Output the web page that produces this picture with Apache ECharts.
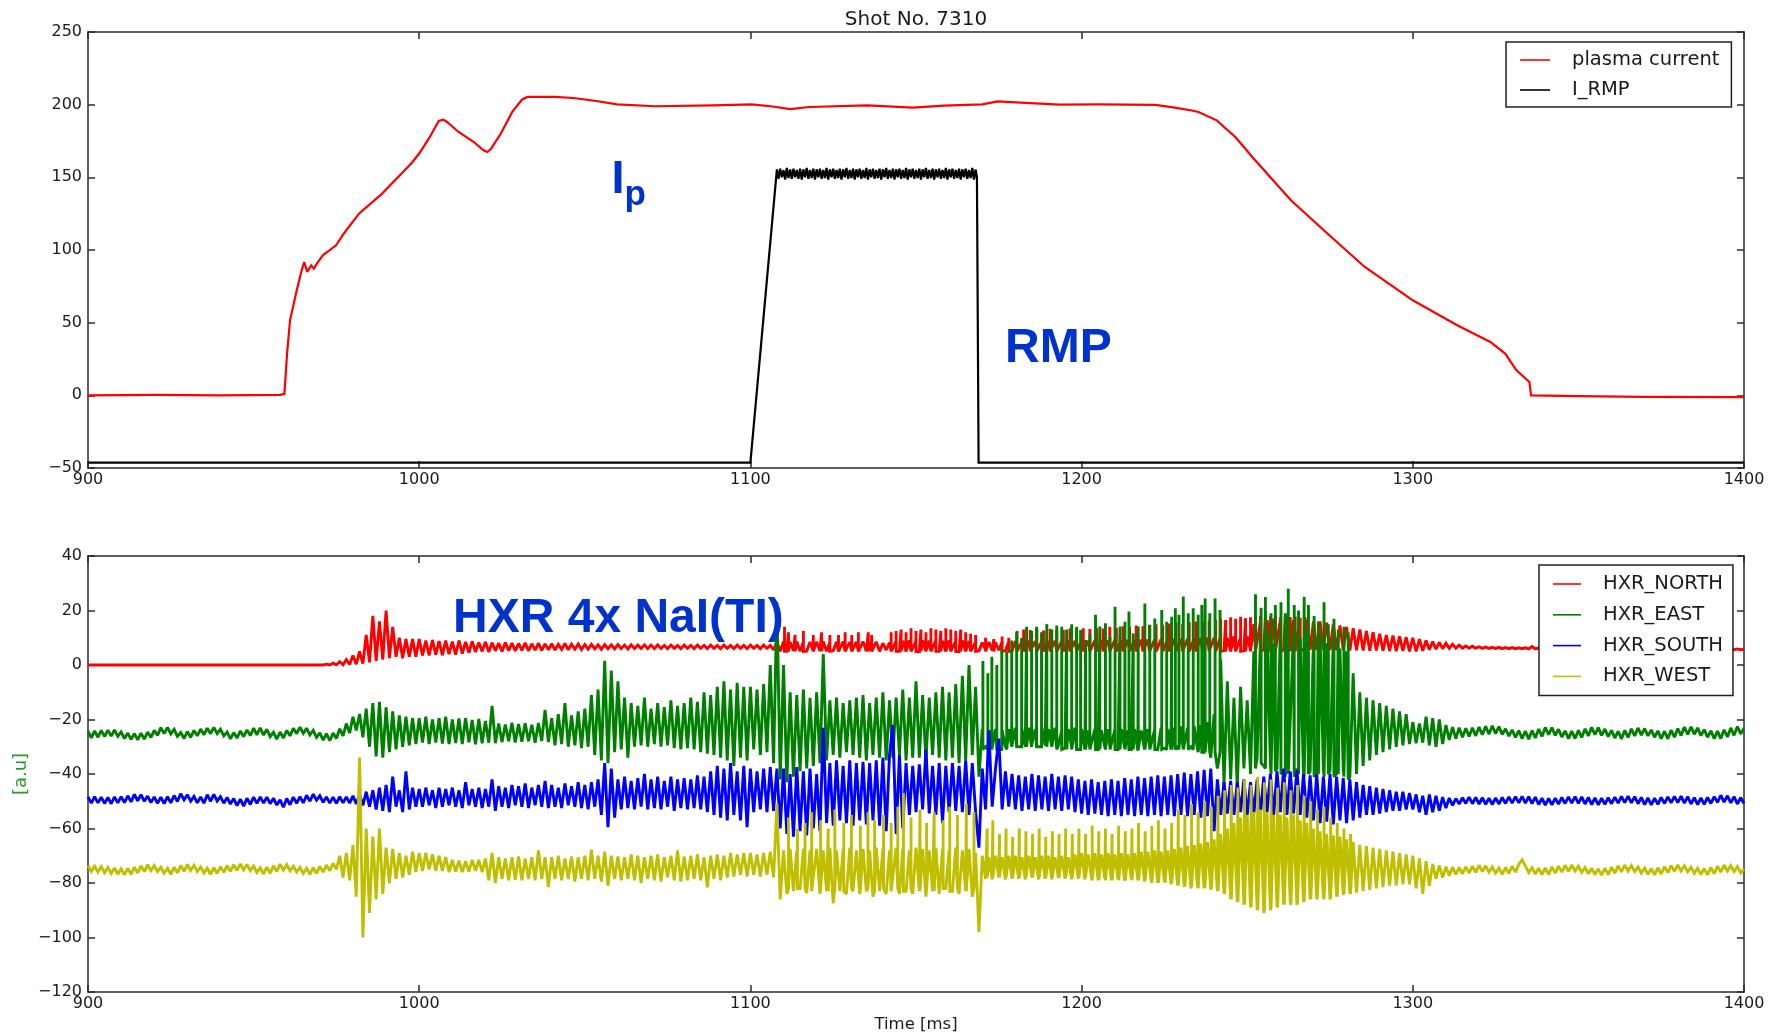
<!DOCTYPE html>
<html>
<head>
<meta charset="utf-8">
<script src="https://cdn.jsdelivr.net/npm/echarts@6/dist/echarts.min.js"></script>
<style>
  html, body { margin: 0; padding: 0; background: #fff; }
  #chart { width: 1778px; height: 1035px; }
</style>
</head>
<body>
<div id="chart"></div>
<script>
// ---------------- Shot No. 7310 : axes ----------------
const timeAxis = [900, 1400, 100];          // min, max, step (ms)
const currentAxis = [-50, 250, 50];         // plasma current / I_RMP
const hxrAxis = [-120, 40, 20];             // HXR signals [a.u]

// ---------------- plasma current (t [ms], value) ----------------
const plasmaCurrent = [
  [900,0],[920,0.3],[940,0],[958,0.3],[959.3,1],[960.1,28.7],[961,51.6],[962.8,70],[964.5,86],
  [965.3,91.7],[966.2,84.9],[967.4,89.4],[968.2,87.2],[969.1,90.6],[970.9,96.3],[974.9,103.2],
  [977.2,111.2],[981.8,125],[988.8,138.8],[994.6,152.5],[998,160.6],[1000.3,167.4],[1003.2,177.8],
  [1005.9,188.8],[1007.3,189.7],[1008.4,188.1],[1011.9,181.2],[1016.5,174.3],[1019.4,168.6],
  [1020.6,167.4],[1021.7,169.7],[1024.6,180],[1028.1,195],[1031,203.4],[1032.7,205.3],[1040.8,205.3],
  [1046.6,204.6],[1053.5,202.5],[1059.7,200.2],[1071.3,198.9],[1088.7,199.5],[1100.3,200.2],
  [1106.2,198.9],[1112,197],[1117.8,198.4],[1135.2,199.5],[1149.1,197.9],[1158.4,199.3],[1170,200.2],
  [1174.7,202.3],[1181.6,201.4],[1193.3,200],[1204.9,200.2],[1222.3,199.8],[1228.1,198],[1233.3,196],
  [1235.3,195],[1240.8,189.2],[1246.4,177.8],[1252,162.8],[1263.2,134.2],[1274.3,111.2],[1285.5,88.3],
  [1300,65.4],[1313.4,48.2],[1323.4,36.7],[1327.9,28.7],[1331.3,17.2],[1335.2,9.2],[1335.7,0],
  [1350,-0.5],[1370,-1],[1400,-1.2]
];

// ---------------- I_RMP ----------------
const rmpBefore = [[900,-46.3],[1100,-46.3]];
const rmpPlateauStart = 1108, rmpPlateauStep = 0.5;   // flat-top samples (ms)
const rmpPlateau = [
  155.5,149,156,150,155,148.5,156.5,149.5,155.5,149,
  156,150,155,149,156,148.5,155.5,150,156.5,149,
  155,149.5,156,148.5,155.5,150,156,149,155,149.5,
  156.5,148.5,155.5,150,156,149,155,149.5,156,148.5,
  155.5,150,156.5,149,155,149.5,156,148.5,155.5,150,
  156,149,155,149.5,156.5,148.5,155.5,150,156,149,
  155,149.5,156,148.5,155.5,150,156.5,149,155,149.5,
  156,148.5,155.5,150,156,149,155,149.5,156.5,148.5,
  155.5,150,156,149,155,149.5,156,148.5,155.5,150,
  156.5,149,155,149.5,156,148.5,155.5,150,156,149,
  155,149.5,156.5,148.5,155.5,150,156,149,155,149.5,
  156,148.5,155.5,150,156,149,155,149.5,156.5,148.5,
  155.5
];
const rmpAfter = [[1168.4,150],[1168.9,-46.3],[1400,-46.3]];

// ---------------- HXR detectors, sampled every 1 ms from 900 ms ----------------
const hxrStart = 900, hxrStep = 1;

const hxrNorth = [
  0,0,0,0,0,0,0,0,0,0,
  0,0,0,0,0,0,0,0,0,0,
  0,0,0,0,0,0,0,0,0,0,
  0,0,0,0,0,0,0,0,0,0,
  0,0,0,0,0,0,0,0,0,0,
  0,0,0,0,0,0,0,0,0,0,
  0,0,0,0,0,0,0,0,0,0,
  0,0,0.3,0,0.7,0.1,1.2,0.1,2,0.2,
  3.5,0.3,5,0.5,11,1,18,1.5,16,2,
  20,2.5,14,3,10,2.5,9.5,3,9.5,3,
  // 1000
  9.5,3.5,9,3.5,9.2,3.8,8.8,3.6,9,4,
  8.6,3.8,9,4.2,8.5,4.5,8.7,4.8,8.3,5,
  8.5,4.8,8.2,5.2,8,5,8.3,5.3,8,5.2,
  7.9,5.4,8.1,5.2,7.8,5.5,8,5.4,7.7,5.6,
  7.8,5.5,7.6,5.7,7.9,5.6,7.6,5.8,7.7,5.7,
  7.5,5.8,7.6,5.9,7.4,5.8,7.5,6,7.4,5.9,
  7.5,6,7.3,5.9,7.4,6,7.3,6.1,7.4,6,
  7.3,6,7.4,6.1,7.2,6,7.3,6.1,7.2,6,
  7.3,6.1,7.2,6,7.3,6.1,7.2,6,7.3,6.1,
  7.2,6,7.3,6.1,7.2,6,7.3,6.1,7.2,6,
  // 1100
  7.3,6.1,7.2,6,7.3,6.1,7.2,5.5,8.5,5,
  8.6,5,8.4,5.2,8.6,5,8.5,5.1,8.4,5,
  8.5,5.1,8.6,5,8.4,5.2,8.5,5,8.6,5.1,
  8.4,5,8.5,5.2,8.6,5,8.4,5.1,8.5,5,
  8,5.5,8.2,5.3,8.8,5,8.9,4.9,9,5,
  8.8,4.9,9,5,8.9,4.8,9,5,8.8,4.9,
  9,5,8.9,4.9,9,5,8.8,5,8.5,5.2,
  8.2,5.5,8.4,5.3,8.3,5.4,8.5,5.2,8.6,5.1,
  8.8,5,8.7,5.1,8.9,5,8.8,5.1,8.9,5,
  8.8,5,8.9,5.1,8.8,5,9,5.1,8.9,5,
  // 1200
  9,5,8.9,5.1,9,5,9.1,5,9,5.1,
  9.1,5,9,5,9.2,5.1,9.1,5,9.2,5,
  9.3,5,9.2,5.1,9.4,5,9.3,5,9.5,5.1,
  9.5,5,9.6,5.1,9.7,5,9.8,5.1,10,5,
  10,5,10.5,5.2,10,5,10.5,5.3,10,5.2,
  10.5,5.4,15,5.5,16,5.6,16.5,5.5,17,5.7,
  16.5,5.6,17,5.8,16.5,5.7,17,5.8,16.5,5.6,
  16,5.5,16,5.6,15.5,5.5,15,5.4,14.5,5.5,
  14,5.3,13.5,5.4,13,5.3,12.5,5.2,12,5.3,
  11.5,5.2,11,5.2,10.8,5.1,10.5,5.2,10.2,5,
  // 1300
  10,5,9.5,5.2,9,5.6,8.6,5.8,8.3,6,
  8,6.1,7.6,6.2,7.3,6.2,7,6.2,6.9,6.2,
  6.7,6.1,6.6,6.1,6.5,6.1,6.5,6,6.4,6,
  6.4,6,6.3,6,6.3,5.9,6.8,5.9,6.2,5.9,
  6.2,5.9,6.2,5.8,6.1,5.8,6.1,5.8,6.1,5.8,
  6.1,5.8,6.1,5.8,6,5.7,6,5.7,6,5.7,
  6,5.7,6,5.7,6,5.7,6,5.7,6,5.7,
  6,5.7,6,5.7,6,5.7,6,5.6,5.9,5.6,
  5.9,5.6,5.9,5.6,5.9,5.6,5.9,5.6,5.9,5.6,
  5.9,5.6,5.9,5.6,5.9,5.6,5.9,5.6,5.9,5.6,
  5.8
];

const hxrEast = [
  -24.3,-26.7,-24.2,-26.5,-24,-26.3,-23.9,-26.1,-23.8,-26.2,
  -24.6,-27,-25,-27.3,-25.2,-27.5,-25,-27.2,-24.6,-26.6,
  -24,-25.8,-23,-25.2,-22.9,-25.3,-23.6,-26.2,-24.8,-27,
  -24.4,-26.6,-24,-26,-23.5,-25.6,-23.2,-25.2,-22.9,-25.2,
  -23.6,-26,-24.6,-27.1,-24.8,-26.8,-24.2,-26.3,-23.8,-25.9,
  -23.2,-25.6,-23.1,-25.7,-23.6,-26.3,-24.7,-27.2,-24.6,-26.8,
  -24,-26,-23.2,-25.2,-22.8,-25.1,-23.2,-25.7,-24,-26.6,
  -24.9,-27.6,-25.2,-27.8,-25,-27,-23.4,-26,-21.5,-25,
  -19,-24,-18,-26.5,-16,-30,-14,-33.5,-13.5,-34,
  -15.5,-32,-17,-31,-18.5,-30,-19,-29.5,-19.5,-29,
  // 1000
  -19.5,-28.5,-19,-29,-20,-28.5,-19.5,-28.8,-19,-29,
  -20,-28.6,-19.6,-29,-19.5,-28.4,-20.2,-29.1,-19.8,-28.7,
  -20.5,-28.5,-15,-28.7,-21.5,-28.3,-21.8,-28,-21.2,-28.4,
  -21.7,-28.2,-21.4,-28,-21.9,-28.5,-21.3,-27.9,-16.5,-28.3,
  -19.5,-29.5,-18,-29,-14,-30,-18.5,-29.5,-17,-30.5,
  -16,-30,-11,-33,-9,-35,1.5,-36,-2,-32,
  -6,-31,-12,-34,-14,-30,-15,-29.5,-12,-30,
  -16,-29,-14,-30,-15.5,-29.5,-13,-30.5,-15,-31,
  -14,-30.5,-12,-31,-13.5,-32,-10,-32.5,-11,-33,
  -8,-34,-6,-35,-9,-37,-6.5,-34,-8,-35,
  // 1100
  -8,-31,-9,-33,-7,-32,0,-36,23,-42,
  0,-43,-10,-41,-11,-39,-9,-38,-12,-37,
  -10,-36,4,-35,-13,-33,-12,-34,-14,-32,
  -13,-33,-12,-34,-11,-35,-14,-33,-12,-34,
  -10,-35,-13,-34,-12,-33,-9,-35,-12,-34,
  -6,-34,-11,-35,-12,-33,-10,-34,-8,-35,
  -10,-34,-7,-36,-4,-35,0,-33,-8,-41,
  -23.5,-30,-24,-31,-23.5,-30.5,-24,-30,-23.5,-29.5,
  -23,-29.5,-23.5,-30,-23,-29,-23.5,-30,-23,-29.5,
  -23.5,-30,-23,-29.5,-24,-30.5,-23.5,-30,-23,-30.5,
  // 1200
  -23.5,-31,-24,-30.5,-23.5,-31,-24,-30,-23.5,-31.5,
  -24,-31,-23.5,-30.5,-24,-31,-23.5,-31.5,-24,-31,
  -23.5,-30.5,-24,-31,-23,-30.5,-23.5,-31,-23,-30,
  -22.5,-30.5,-23,-30,-22.5,-31,-22,-32,-21,-34,
  -18,-38,2,-44,-6,-42,-12,-45,-8,-38,
  -13,-40,5,-34,10,-37,12,-36,8,-38,
  12,-39,11,-40,13,-38,10,-41,12,-39,
  9,-40,11,-38,8,-39,10,-40,6,-38,
  5,-41,-3,-40,-10,-37,-12,-35,-13,-33,
  -14,-32,-15,-31,-16,-30,-17,-29.5,-18,-29,
  // 1300
  -21,-28.7,-21.5,-28.5,-19,-29.5,-19.5,-30,-20,-29,
  -22,-27.5,-22.8,-27,-23,-26.5,-23.2,-26.2,-23,-26,
  -22.8,-25.6,-22.5,-25.4,-22.3,-25.2,-22.6,-25.5,-23.4,-26.1,
  -23.8,-26.6,-24.1,-27,-24.3,-27.2,-24,-26.8,-23.5,-26.2,
  -22.9,-25.6,-23,-25.8,-23.6,-26.4,-24.2,-27,-24.3,-27,
  -24,-26.6,-23.4,-26,-22.9,-25.6,-23,-25.8,-23.5,-26.3,
  -24,-26.8,-24.3,-27.1,-24,-26.6,-23.4,-26,-23.1,-25.7,
  -23.3,-26,-23.8,-26.5,-24.2,-27,-24.3,-27.1,-23.9,-26.5,
  -23.3,-25.9,-22.8,-25.5,-22.7,-25.4,-23.1,-25.9,-23.7,-26.5,
  -24.2,-27,-24.3,-27,-23.8,-26.4,-23.1,-25.8,-22.6,-25.3,
  -23.2
];

const hxrSouth = [
  -48.4,-50.7,-48.3,-50.6,-48.5,-50.8,-48.6,-50.9,-48.4,-50.6,
  -48.3,-50.5,-48,-50.2,-47.5,-49.8,-47.6,-50,-48.1,-50.5,
  -48.4,-50.8,-48.5,-50.9,-48.3,-50.6,-47.9,-50.1,-47.2,-49.5,
  -47.6,-50,-48.2,-50.6,-48.4,-50.7,-47.6,-50,-47.5,-49.9,
  -48.3,-50.7,-48.6,-51,-49,-51.6,-49.2,-51.8,-48.9,-51.2,
  -48.5,-50.8,-48.4,-50.7,-48.5,-50.9,-48.9,-51.4,-49.5,-52.2,
  -49,-51.3,-48.5,-50.8,-48.3,-50.6,-47.8,-50,-47.4,-49.6,
  -48,-50.4,-48.4,-50.7,-48.5,-50.8,-48.3,-50.6,-48.4,-50.7,
  -48,-51,-47.5,-51.5,-46.5,-52,-46,-53,-45,-53.5,
  -44,-54,-41,-52,-46,-54,-39,-53,-45,-52,
  // 1000
  -45.5,-52,-45,-51.5,-46,-52.5,-45,-52,-45.5,-51.5,
  -45,-52,-46,-52.5,-43,-51.5,-45.5,-52,-45,-52.5,
  -45.5,-52,-42,-53.5,-44.5,-52,-45,-52.5,-44,-51.5,
  -44.5,-52,-43.5,-52.5,-45,-51.5,-44,-52,-42.5,-52.5,
  -44,-52,-45,-52.5,-43.5,-51.5,-44.5,-52,-43,-52.5,
  -44,-53,-43,-52,-42,-55,-36,-59.5,-38,-56,
  -42,-53,-41,-52.5,-42.5,-53,-41.5,-52,-40,-53,
  -42,-52.5,-41,-53,-42.5,-52,-41,-53.5,-42,-52.5,
  -41.5,-53,-42,-52.5,-40.5,-53,-41,-54,-39,-55,
  -37,-56,-38,-57,-36,-55,-39,-57,-37,-59.5,
  // 1100
  -38,-54,-39,-53,-38,-54,-37.5,-53.5,-38,-60,
  -38,-62,-40,-63,-37.5,-61,-39,-62.5,-38,-60,
  -40,-61,-23,-58,-36,-59,-35,-57,-37,-58,
  -35,-59,-36,-57,-35.5,-58.5,-36,-57,-35,-59,
  -34,-61,-33,-22,-62,-33,-60,-36,-55,-37,
  -54,-36.5,-53,-31,-54.5,-37,-55,-36,-58,-37,
  -54,-36,-53.5,-37,-54,-35,-55,-36,-54,-67,
  -38,-53,-24,-52,-38,-27,-53,-39,-52,-40,
  -53,-40.5,-53.5,-41,-53,-40,-53.5,-40.5,-53,-41,
  -53.5,-40,-53,-41,-53.5,-40.5,-53,-41,-54,-42,
  // 1200
  -54.5,-42.5,-55,-42,-54.5,-43,-55,-42.5,-55.5,-42,
  -55,-42.5,-55.5,-41.5,-55,-42,-55.5,-41,-55,-41.5,
  -55.5,-41,-55,-40.5,-55.5,-41,-55,-40.5,-55.5,-40,
  -55,-39.5,-55.5,-40,-55,-39,-56,-38.5,-55.5,-38,
  -61,-42,-55,-43,-54.5,-42.5,-55,-43,-54,-42,
  -55,-43,-54.5,-42,-55,-41,-54,-40,-55,-39,
  -54,-38,-55,-39,-54.5,-38.5,-55,-40,-56,-40.5,
  -57,-40,-58,-41,-57.5,-40,-58.5,-41,-57,-41.5,
  -58,-42,-57,-43,-56,-44,-55,-44.5,-55,-45,
  -54.5,-45.5,-54,-46,-53.5,-46.5,-53.5,-46.5,-53,-47,
  // 1300
  -53,-47.5,-54,-48,-55,-47.5,-54,-48,-53.5,-48.5,
  -52.5,-48.8,-51.5,-49,-51,-48.7,-50.8,-48.5,-50.9,-48.6,
  -51,-48.7,-51.1,-48.9,-51.2,-48.8,-51,-48.6,-50.8,-48.4,
  -50.7,-48.3,-50.6,-48.2,-50.7,-48.3,-50.9,-48.5,-51.2,-48.9,
  -51.4,-49,-51.3,-48.9,-51,-48.6,-50.8,-48.4,-50.7,-48.3,
  -50.8,-48.4,-51,-48.6,-51.2,-48.8,-51.3,-48.9,-51.1,-48.7,
  -50.9,-48.5,-50.7,-48.2,-50.5,-48.1,-50.6,-48.3,-50.9,-48.6,
  -51.2,-48.8,-51.3,-48.9,-51.1,-48.6,-50.8,-48.4,-50.6,-48.2,
  -50.5,-48.1,-50.7,-48.3,-51,-48.7,-51.2,-48.8,-51.1,-48.6,
  -50.8,-48.3,-50.4,-47.8,-50.3,-48,-50.6,-48.3,-51,-48.7,
  -50.8
];

const hxrWest = [
  -73.6,-75.8,-73.8,-76,-74,-76.2,-74.3,-76.5,-74.5,-76.8,
  -74.8,-77,-74.6,-76.8,-74.2,-76.3,-73.7,-75.8,-73.3,-75.5,
  -73.6,-75.8,-74.2,-76.4,-74.6,-76.8,-74.2,-76.3,-73.6,-75.7,
  -73.2,-75.4,-73.5,-75.8,-74.1,-76.3,-74.6,-76.8,-74.4,-76.5,
  -74,-76.1,-73.6,-75.7,-73.3,-75.4,-73,-75.2,-73.2,-75.5,
  -73.8,-76.1,-74.4,-76.7,-74.2,-76.4,-73.7,-75.8,-73.1,-75.3,
  -73.3,-75.5,-73.8,-76,-74.3,-76.5,-74.6,-76.8,-74.4,-76.5,
  -73.9,-76,-73.4,-75.5,-72.8,-75,-70,-78,-69,-79,
  -66,-85,-34,-100,-60,-91,-63,-86,-60,-84,
  -67,-80,-67.5,-78.5,-69,-78,-70,-77,-68.5,-76,
  // 1000
  -69,-75.6,-68.9,-75,-69.5,-75.5,-70,-75.6,-70.5,-76,
  -71.5,-75.8,-71.8,-76,-72,-75.8,-71.5,-75.5,-71.5,-76,
  -71,-79,-69,-80,-70.5,-78.5,-71,-79,-70.5,-78.8,
  -70.3,-79,-71,-78.5,-70.5,-79,-68,-78.5,-70.5,-81.5,
  -70.5,-78.5,-70,-79,-71,-78.5,-70.3,-79.5,-70.5,-78.5,
  -70,-79,-67.8,-78.5,-70,-79.5,-68.5,-81,-70,-78.5,
  -70.3,-79,-70.5,-78.5,-69.5,-79,-70,-80,-70.5,-78.5,
  -70,-79,-69.5,-79.5,-70.5,-78,-70,-79,-68,-79.5,
  -70.3,-79,-70,-78.5,-69.5,-79,-70.5,-81.6,-70,-78.5,
  -69.5,-79,-70,-78,-69,-77.6,-69.5,-77,-69,-77.6,
  // 1100
  -69,-77,-69.5,-77.6,-69,-77,-68.5,-78,-51,-86,
  -68,-84,-67.5,-83,-68,-82,-67.5,-83.7,-68,-83,
  -67.5,-84,-68,-83,-67,-87.5,-68,-83,-67.5,-84,
  -67,-83,-68,-84,-67.5,-83,-68,-85,-67,-83,
  -67.5,-84,-68,-83,-67,-84,-67.5,-83,-68,-84,
  -67,-83,-67.5,-85,-68,-83,-67,-84,-67.5,-82,
  -68,-83,-67,-84,-68,-83,-67.5,-85,-69,-98,
  -70,-78.5,-70.5,-78.7,-70,-78,-70.5,-78.7,-70,-78.5,
  -70,-78.5,-70.5,-78.7,-70,-78,-70.5,-78.7,-70,-78.5,
  -70,-78.7,-70.5,-78.2,-70,-78.5,-70.5,-78.7,-69.5,-78.5,
  // 1200
  -69,-78.7,-69.5,-78.2,-69,-79,-69.5,-78.5,-69,-79,
  -69.5,-78.7,-69,-79.2,-69.5,-78.5,-69,-79,-68.5,-79.5,
  -68.5,-79,-68,-80,-68.5,-79.5,-68,-80.5,-67.5,-81,
  -67,-81.5,-66.5,-82,-66,-81.5,-65.5,-82,-65,-82.5,
  -64,-83,-62,-84,-60,-86,-58,-87,-56,-88,
  -55,-89,-54,-90,-53,-91,-54,-90,-55,-89,
  -55,-88,-56,-87,-55,-88,-57,-87,-58,-86,
  -60,-86,-61,-85,-62,-86,-62.5,-85,-63,-84.5,
  -64,-84,-65,-83.5,-66,-83,-66.5,-82.5,-67,-82,
  -67.5,-81.5,-68,-81,-68.5,-81,-69,-80.5,-69.5,-80.5,
  // 1300
  -70,-82,-71,-84,-72,-81,-73,-78.5,-73.5,-78,
  -74,-77.3,-74.2,-76.8,-74.3,-76.6,-74.1,-76.4,-73.8,-76.1,
  -73.5,-75.8,-73.7,-76,-74.1,-76.4,-74.5,-76.8,-74.3,-76.5,
  -73.8,-76,-73.2,-71.5,-73.8,-76.2,-74.4,-76.7,-74.6,-76.9,
  -74.5,-76.8,-74.1,-76.4,-73.8,-76,-73.5,-75.7,-73.4,-75.6,
  -73.8,-76.1,-74.3,-76.6,-74.6,-76.9,-74.8,-77.1,-74.6,-76.9,
  -74.2,-76.4,-73.7,-75.9,-73.4,-75.6,-73.6,-75.8,-74.1,-76.4,
  -74.5,-76.8,-74.7,-77,-74.4,-76.7,-74,-76.2,-73.6,-75.8,
  -73.4,-75.6,-73.7,-75.9,-74.2,-76.5,-74.6,-76.9,-74.7,-77,
  -74.3,-76.6,-73.8,-76,-73.4,-75.6,-73.6,-75.8,-74,-76.3,
  -74.8
];

// Narrow bursts between samples: [t, base, peak]
const northSpikes = [
  [1110.3,5,14],[1111.5,5,12],[1113.5,5,11],[1116,5,12.5],[1119,5,11],[1121.5,5,12],[1124,5,11],
  [1126.6,5,11],[1128.6,5,12],[1130.6,5,11],[1132.6,5,12],[1135.6,5,12],[1136.6,5,11],
  [1142.5,5,12],[1144,5,12.5],[1145.5,5,13],[1147,5,12],[1148.5,5,13.5],[1150,5,12.5],[1151.5,5,13],
  [1153,5,12],[1154.5,5,13.5],[1156,5,13],[1157.5,5,12.5],[1159,5,13.5],[1160.5,5,13],[1162,5,12.5],
  [1163.5,5,13],[1165,5,12],[1166.5,5,11.5],[1168,5,11],
  [1171,5,10],[1173.5,5,9.5],[1176,5,10.5],[1178,5,10],
  [1180.5,5,12.5],[1182.5,5,13],[1184.5,5,12.8],[1186.5,5,13.2],[1188.5,5,12.7],[1190.5,5,13.3],
  [1192.5,5,13],[1194.5,5,12.8],[1196.5,5,13.4],[1198.5,5,13],[1200.5,5,13.5],[1202.5,5,13.2],
  [1204.5,5,13.6],[1206.5,5,13.4],[1208.5,5,14],[1210.5,5,13.6],[1212.5,5,14.2],[1214.5,5,14],
  [1216.5,5,14.5],[1218.5,5,14.2],[1220.5,5,14.8],[1222.5,5,15],[1224.5,5,14.6],[1226.5,5,15.2],
  [1228.5,5,15.5],[1230.5,5,15],[1232.5,5,15.8],[1234.5,5,16],[1236.5,5,15.6],[1238.5,5,16.2],
  [1240.5,5,16.5],[1242,5,17],[1243.5,5,16.5],[1245,5,17.5],[1246.5,5,17],[1248,5,17.7],
  [1249.5,5,17.2],[1251,5,17.5],[1252.5,5,18],[1254,5,18],[1255.5,5,18.3],[1257,5,17.8],
  [1258.5,5,18.2],[1260,5,17.5],[1261.5,5,18],[1263,5,17.6],[1264.5,5,17.8],[1266,5,17.3],[1267.5,5,17.5]
];

const eastSpikes = [
  [1170.2,-31,1.5],[1171.7,-31,-3],[1172.9,-31,3],[1174.4,-31,0],[1175.9,-31,6],[1177.4,-31,5],
  [1178.9,-30,9],[1180.4,-30,12],[1181.9,-30,10],[1183.4,-30,14],[1184.9,-30,12.5],[1186.4,-30,14],
  [1187.9,-30,12],[1189.5,-30,15],[1191,-30,13],[1192.5,-31,14.5],[1194,-31,14],[1195.5,-31,13],
  [1197,-31,15],[1198.5,-31,14],[1199.7,-31,12.8],[1201.2,-31,9.2],[1202.5,-31,11.6],[1204.2,-31,18.4],
  [1205.5,-31,14.1],[1207.2,-31,15.3],[1208.6,-31,10.4],[1210.1,-31,21.4],[1211.6,-31,14.1],
  [1213.1,-31,15.9],[1214.3,-31,19.6],[1215.6,-31,11.6],[1217.1,-31,14.1],[1219.1,-31,22.6],
  [1220.6,-31,14.7],[1222.1,-31,17.1],[1224.2,-31,20.2],[1225.7,-31,15.9],[1227.2,-31,17.7],
  [1228.3,-31,20.8],[1229.4,-31,18.4],[1230.7,-31,25.1],[1232.2,-31,19],[1233.7,-31,20.8],
  [1235.2,-32,18.4],[1236.3,-32,22],[1237.3,-32,24.4],[1238.7,-32,19],[1240.3,-32,24.4],
  [1241.8,-32,20.2],
  [1252.5,-38,26],[1254.2,-36,21],[1255.5,-38,25],[1257.2,-40,19],[1258.5,-39,22],[1260.2,-40,23],
  [1261.5,-41,19],[1262.4,-40,28],[1264.2,-41,22],[1265.5,-40,20],[1267.2,-41,25],[1268.5,-40,22],
  [1270.2,-41,18],[1271.5,-40,16],[1273.2,-41,23],[1274.5,-40,15],[1276.2,-41,17],[1277.5,-40,13],
  [1279.2,-41,14],[1280.5,-42,12]
];

const southSpikes = [];

const westSpikes = [
  [1111.5,-82,-56],[1114.2,-82,-60],[1116.5,-82,-58],[1118.5,-83,-54],[1121.2,-82,-57],[1123.5,-83,-60],
  [1125.5,-82,-53],[1128.2,-83,-58],[1130.5,-82,-55],[1133.2,-83,-59],[1135.5,-82,-54],[1137.5,-83,-57],
  [1140.2,-82,-55],[1142.5,-83,-58],[1144.5,-82,-52],[1146.2,-83,-47],[1148.5,-82,-56],[1151.2,-83,-53],
  [1153.2,-82,-58],[1155.5,-83,-54],[1158.2,-82,-57],[1160.2,-83,-52],[1162.5,-82,-55],[1165.2,-83,-51],
  [1167.5,-82,-54],
  [1171.5,-78,-60],[1173.2,-78,-57],[1175.2,-78,-62],[1177.2,-78,-60],[1179.2,-78,-63],[1181.2,-78,-60],
  [1183.2,-78,-61],[1185.2,-78,-62],[1187.2,-78,-60],[1189.2,-78,-63],[1191.2,-78,-61],[1193.2,-78,-62],
  [1195.2,-78,-60],[1197.2,-78,-62],[1199.2,-78,-60],[1201.2,-78,-62],[1203.2,-79,-59],[1205.2,-79,-61],
  [1207.2,-79,-60],[1209.2,-79,-62],[1211.2,-79,-59],[1213.2,-79,-61],[1215.2,-79,-60],[1217.2,-79,-58],
  [1219.2,-79,-61],[1221.2,-80,-59],[1223.2,-80,-57],[1225.2,-80,-60],[1227.2,-80,-58],[1229.2,-81,-53],
  [1231.2,-81,-55],[1233.2,-81,-51],[1235.2,-82,-54],[1237.2,-82,-50],[1239.2,-82,-52],[1241.2,-83,-48],
  [1243.2,-84,-46],[1245.2,-86,-44],[1247.2,-87,-45],[1249.2,-88,-42],[1251.2,-89,-44],[1253.2,-90,-41],
  [1255.2,-90,-43],[1257.2,-89,-42],[1259.2,-89,-45],[1261.2,-88,-43],[1263.2,-88,-46],[1265.2,-87,-44],
  [1267.2,-87,-48],[1269.2,-86,-50],[1271.2,-85,-53],[1273.2,-86,-52],[1275.2,-85,-56],[1277.2,-85,-58],
  [1279.2,-84,-60],[1281.2,-84,-62]
];

// ---------------- build traces ----------------
function hxrTrace(samples, spikes) {
  const pts = samples.map((v, i) => [hxrStart + i * hxrStep, v]);
  for (const [t, base, peak] of spikes) pts.push([t, base], [t, peak], [t, base]);
  return pts.sort((a, b) => a[0] - b[0]);
}
const rmpTrace = rmpBefore
  .concat(rmpPlateau.map((v, i) => [rmpPlateauStart + i * rmpPlateauStep, v]))
  .concat(rmpAfter);

// ---------------- styling ----------------
const FONT = '"DejaVu Sans", "Bitstream Vera Sans", sans-serif';
const BOLD = '"Liberation Sans", Arial, sans-serif';
const INK = '#1a1a1a';
const FRAME = { color: '#2b2b2b', width: 1.5 };
const minus = v => String(v).replace('-', '\u2212');

function xAxisFor(grid, position, withLabels, extra) {
  return Object.assign({
    type: 'value', gridIndex: grid, position: position,
    min: timeAxis[0], max: timeAxis[1], interval: timeAxis[2],
    axisLine: { show: true, onZero: false, lineStyle: FRAME },
    axisTick: { show: true, inside: true, length: 7, lineStyle: FRAME },
    axisLabel: { show: withLabels, margin: 4, fontFamily: FONT, fontSize: 16, color: INK, formatter: minus },
    splitLine: { show: false }
  }, extra || {});
}
function yAxisFor(grid, position, range, withLabels, extra) {
  return Object.assign({
    type: 'value', gridIndex: grid, position: position,
    min: range[0], max: range[1], interval: range[2],
    axisLine: { show: true, onZero: false, lineStyle: FRAME },
    axisTick: { show: true, inside: true, length: 7, lineStyle: FRAME },
    axisLabel: { show: withLabels, margin: 6, fontFamily: FONT, fontSize: 16, color: INK, formatter: minus },
    splitLine: { show: false }
  }, extra || {});
}
function trace(name, xi, yi, data, color, width) {
  return {
    name: name, type: 'line', xAxisIndex: xi, yAxisIndex: yi, data: data,
    symbol: 'none', showSymbol: false, smooth: false, silent: true,
    lineStyle: { color: color, width: width, join: 'miter', miterLimit: 2 }, itemStyle: { color: color }
  };
}
const legendText = { fontFamily: FONT, fontSize: 19.5, color: INK, lineHeight: 20, padding: [0, 0, 0, 17] };

const chart = echarts.init(document.getElementById('chart'), null, { renderer: 'canvas' });
chart.setOption({
  backgroundColor: '#ffffff',
  animation: false,
  title: {
    text: 'Shot No. 7310', left: 916, top: 9, padding: 0, textAlign: 'center',
    textStyle: { fontFamily: FONT, fontSize: 20, fontWeight: 'normal', color: INK, lineHeight: 22 }
  },
  grid: [
    { left: 88, top: 32, width: 1656, height: 436 },
    { left: 88, top: 556, width: 1656, height: 436 }
  ],
  xAxis: [
    xAxisFor(0, 'bottom', true),
    xAxisFor(0, 'top', false),
    xAxisFor(1, 'bottom', true, {
      name: 'Time [ms]', nameLocation: 'middle', nameGap: 24,
      nameTextStyle: { fontFamily: FONT, fontSize: 16.5, color: INK }
    }),
    xAxisFor(1, 'top', false)
  ],
  yAxis: [
    yAxisFor(0, 'left', currentAxis, true),
    yAxisFor(0, 'right', currentAxis, false),
    yAxisFor(1, 'left', hxrAxis, true),
    yAxisFor(1, 'right', hxrAxis, false)
  ],
  legend: [
    {
      data: ['plasma current', 'I_RMP'], orient: 'vertical', left: 1506, top: 42,
      icon: 'rect', itemWidth: 30, itemHeight: 1.6, itemGap: 10,
      padding: [8, 12, 7, 14],
      borderColor: '#222', borderWidth: 1.5, backgroundColor: '#ffffff',
      selectedMode: false, textStyle: legendText
    },
    {
      data: ['HXR_NORTH', 'HXR_EAST', 'HXR_SOUTH', 'HXR_WEST'], orient: 'vertical', left: 1539, top: 565,
      icon: 'rect', itemWidth: 28, itemHeight: 1.6, itemGap: 10.8,
      padding: [9, 10, 9, 14],
      borderColor: '#222', borderWidth: 1.5, backgroundColor: '#ffffff',
      selectedMode: false, textStyle: legendText
    }
  ],
  graphic: [
    // unit label of the HXR panel, read bottom-to-top
    { type: 'text', x: 21, y: 774, rotation: Math.PI / 2, z: 100,
      style: { text: '[a.u]', fontFamily: FONT, fontSize: 18, fill: '#2a9a2a', align: 'center', verticalAlign: 'middle' } },
    { type: 'text', x: 611.6, y: 180.2, z: 100,
      style: { text: 'I', fontFamily: BOLD, fontWeight: 'bold', fontSize: 47, fill: '#0033cc', align: 'left', verticalAlign: 'middle' } },
    { type: 'text', x: 624.6, y: 195.5, z: 100,
      style: { text: 'p', fontFamily: BOLD, fontWeight: 'bold', fontSize: 35, fill: '#0033cc', align: 'left', verticalAlign: 'middle' } },
    { type: 'text', x: 1005, y: 348.6, z: 100,
      style: { text: 'RMP', fontFamily: BOLD, fontWeight: 'bold', fontSize: 48, fill: '#0033cc', align: 'left', verticalAlign: 'middle' } },
    { type: 'text', x: 453, y: 618.6, z: 100,
      style: { text: 'HXR 4x NaI(TI)', fontFamily: BOLD, fontWeight: 'bold', fontSize: 48, fill: '#0033cc', align: 'left', verticalAlign: 'middle' } }
  ],
  series: [
    trace('plasma current', 0, 0, plasmaCurrent, '#ff0000', 2.2),
    trace('I_RMP', 0, 0, rmpTrace, '#000000', 2.2),
    trace('HXR_NORTH', 2, 2, hxrTrace(hxrNorth, northSpikes), '#ff0000', 2.9),
    trace('HXR_EAST', 2, 2, hxrTrace(hxrEast, eastSpikes), '#008000', 2.9),
    trace('HXR_SOUTH', 2, 2, hxrTrace(hxrSouth, southSpikes), '#0000ff', 2.9),
    trace('HXR_WEST', 2, 2, hxrTrace(hxrWest, westSpikes), '#bfbf00', 2.9)
  ]
});
</script>
</body>
</html>
